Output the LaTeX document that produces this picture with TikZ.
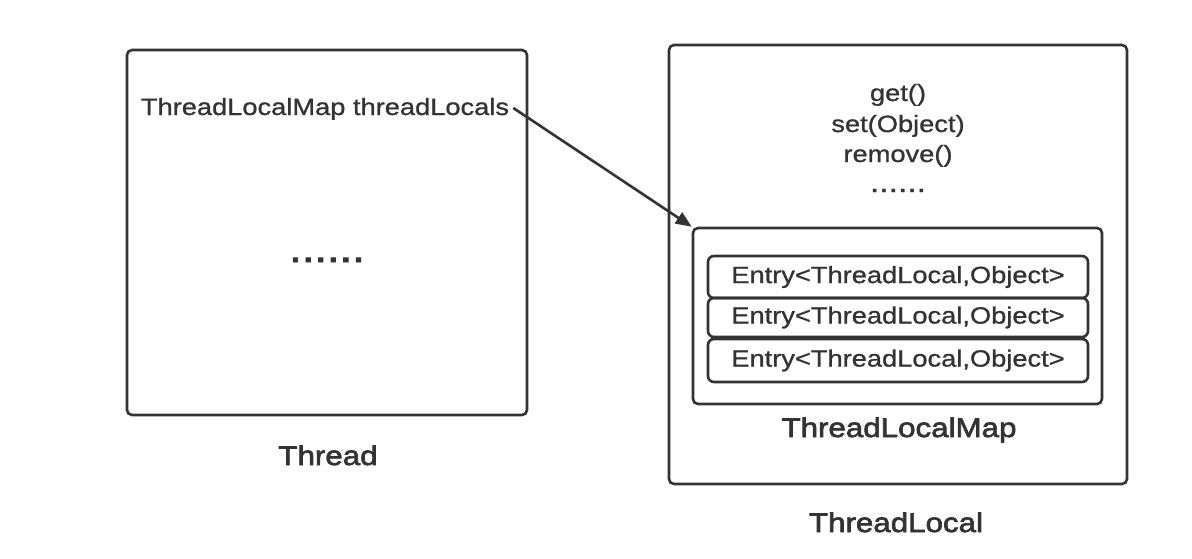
\documentclass[tikz,border=0pt]{standalone}
\usepackage{fontspec}
\setmainfont{Liberation Sans}[FakeStretch=1.16,FakeBold=1]
\newfontfamily\labfont{Liberation Sans}[FakeStretch=1.16,FakeBold=2.5]
\usetikzlibrary{arrows.meta}
\definecolor{ink}{HTML}{333333}
\tikzset{
  box/.style={draw=ink, line width=2.6pt, rounded corners=5pt, inner sep=0pt},
  entrybox/.style={draw=ink, line width=2.6pt, rounded corners=6pt, inner sep=0pt,
     minimum width=380pt, text=ink, font=\fontsize{23.5}{27}\selectfont},
  txt/.style={text=ink, font=\fontsize{23.5}{27}\selectfont, inner sep=0pt, anchor=base},
  lab/.style={text=ink, font=\fontsize{27}{31}\selectfont\labfont, inner sep=0pt, anchor=base},
  bigdots/.style={text=ink, font=\fontsize{39}{40}\selectfont\labfont, inner sep=0pt, anchor=base},
  smalldots/.style={text=ink, font=\fontsize{29}{30}\selectfont, inner sep=0pt, anchor=base},
  link/.style={draw=ink, line width=2.6pt, -{Triangle[length=16pt,width=13pt]}}
}
\begin{document}
\begin{tikzpicture}[x=1pt,y=-1pt]
\useasboundingbox (0,0) rectangle (1192,558);
% Thread
\node[box, minimum width=400pt, minimum height=365pt] (thread) at (327,232.5) {};
\node[txt] (field) at (325,115) {ThreadLocalMap threadLocals};
\node[bigdots] (tdots) at (327,262) {......};
\node[lab] (threadlab) at (328,465) {Thread};
% ThreadLocal
\node[box, minimum width=458pt, minimum height=439pt] (tl) at (898,264.5) {};
\node[txt] (get) at (898,101) {get()};
\node[txt] (set) at (898,132) {set(Object)};
\node[txt] (remove) at (898,162) {remove()};
\node[smalldots] (mdots) at (898,192) {......};
\node[box, minimum width=409pt, minimum height=176pt] (map) at (897.5,316) {};
\node[entrybox, minimum height=42pt] (e1) at (898,277) {Entry<ThreadLocal,Object>};
\node[entrybox, minimum height=39pt] (e2) at (898,317.5) {Entry<ThreadLocal,Object>};
\node[entrybox, minimum height=43pt] (e3) at (898,360.5) {Entry<ThreadLocal,Object>};
\node[lab] (maplab) at (899,437) {ThreadLocalMap};
\node[lab] (tllab) at (896,532) {ThreadLocal};
% arrow
\draw[link] (field.base east) ++(4pt,7pt) coordinate (src) (src) -- (map.north west);
\end{tikzpicture}
\end{document}
